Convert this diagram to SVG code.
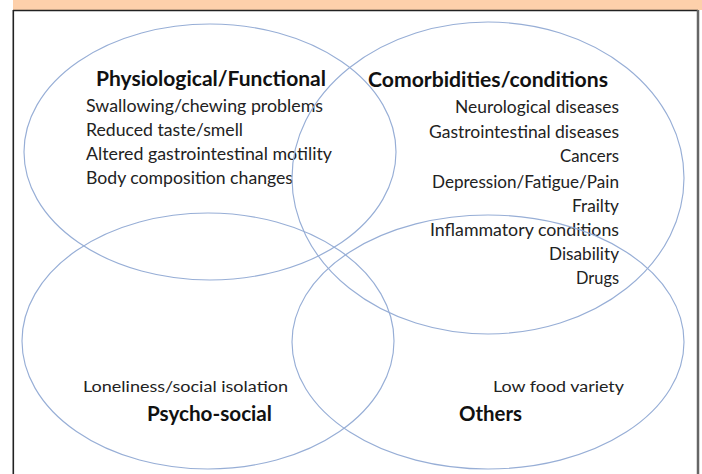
<svg xmlns="http://www.w3.org/2000/svg" width="702" height="474" viewBox="0 0 702 474">
<style>
.ell{fill:none;stroke:#97aed6;stroke-width:1.15}
.h{font-family:Lato,"Liberation Sans",sans-serif;font-weight:bold;font-size:21px;fill:#111}
.t{font-family:Lato,"Liberation Sans",sans-serif;font-size:17.5px;fill:#222}
.s{font-family:Lato,"Liberation Sans",sans-serif;font-size:15.5px;fill:#222}
</style>
<rect x="0" y="0" width="702" height="474" fill="#fff"/>
<rect x="13" y="0" width="689" height="10" fill="#fdd0ab"/>
<g id="frame">
<line x1="13" y1="10.5" x2="698" y2="10.5" stroke="#222" stroke-width="1.5"/>
<line x1="13.3" y1="10" x2="13.3" y2="474" stroke="#222" stroke-width="1.6"/>
<line x1="698" y1="10" x2="698" y2="474" stroke="#666" stroke-width="2.5"/>
</g>
<g id="connectors"></g>
<g id="physiological">
<ellipse class="ell" cx="210" cy="152" rx="186" ry="128"/>
<text class="h" x="96" y="86" textLength="230" lengthAdjust="spacingAndGlyphs">Physiological/Functional</text>
<text class="t" x="86" y="112" textLength="237" lengthAdjust="spacingAndGlyphs">Swallowing/chewing problems</text>
<text class="t" x="86" y="136" textLength="157" lengthAdjust="spacingAndGlyphs">Reduced taste/smell</text>
<text class="t" x="86" y="160" textLength="246" lengthAdjust="spacingAndGlyphs">Altered gastrointestinal motility</text>
<text class="t" x="86" y="184" textLength="207" lengthAdjust="spacingAndGlyphs">Body composition changes</text>
</g>
<g id="comorbidities">
<ellipse class="ell" cx="488" cy="178" rx="196" ry="156"/>
<text class="h" x="368" y="87" textLength="240" lengthAdjust="spacingAndGlyphs">Comorbidities/conditions</text>
<g text-anchor="end">
<text class="t" x="619" y="113" textLength="164" lengthAdjust="spacingAndGlyphs">Neurological diseases</text>
<text class="t" x="619" y="138" textLength="190" lengthAdjust="spacingAndGlyphs">Gastrointestinal diseases</text>
<text class="t" x="619" y="162" textLength="59" lengthAdjust="spacingAndGlyphs">Cancers</text>
<text class="t" x="619" y="188" textLength="187" lengthAdjust="spacingAndGlyphs">Depression/Fatigue/Pain</text>
<text class="t" x="619" y="212" textLength="47" lengthAdjust="spacingAndGlyphs">Frailty</text>
<text class="t" x="619" y="236" textLength="189" lengthAdjust="spacingAndGlyphs">Inflammatory conditions</text>
<text class="t" x="619" y="260" textLength="70" lengthAdjust="spacingAndGlyphs">Disability</text>
<text class="t" x="619" y="284" textLength="43" lengthAdjust="spacingAndGlyphs">Drugs</text>
</g>
</g>
<g id="psychosocial">
<ellipse class="ell" cx="208" cy="341" rx="186" ry="128"/>
<text class="s" x="83" y="392" textLength="205" lengthAdjust="spacingAndGlyphs">Loneliness/social isolation</text>
<text class="h" x="147" y="421" textLength="125" lengthAdjust="spacingAndGlyphs">Psycho-social</text>
</g>
<g id="others">
<ellipse class="ell" cx="488" cy="342" rx="196" ry="127"/>
<text class="s" x="493" y="392" textLength="131" lengthAdjust="spacingAndGlyphs">Low food variety</text>
<text class="h" x="459" y="421" textLength="63" lengthAdjust="spacingAndGlyphs">Others</text>
</g>
</svg>
